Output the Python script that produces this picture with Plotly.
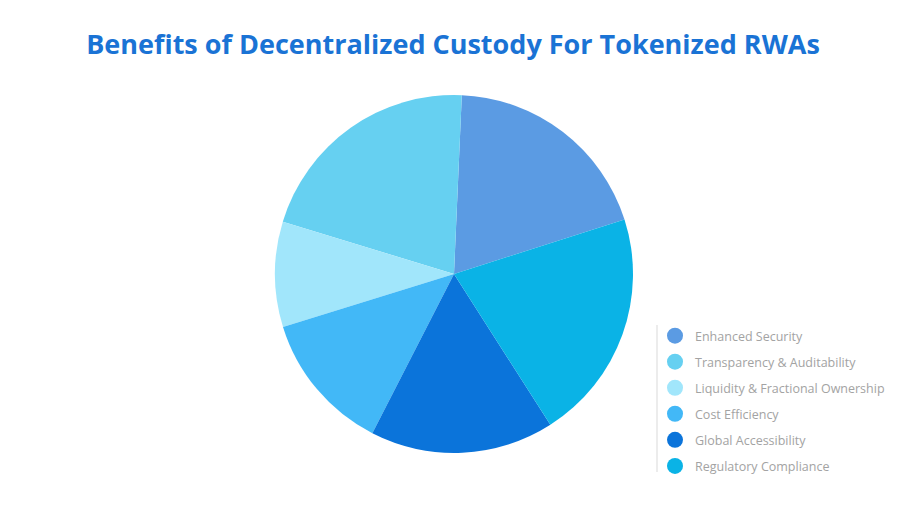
import plotly.graph_objects as go

categories = ["Enhanced Security", "Transparency & Auditability", "Liquidity & Fractional Ownership",
              "Cost Efficiency", "Global Accessibility", "Regulatory Compliance"]
values = [19.4, 21.0, 9.5, 12.7, 16.6, 20.9]
colors = ["#5b9be3", "#66d0f1", "#a1e6fb", "#42b8f7", "#0b74da", "#0ab3e6"]

W, H = 906, 506
OFF = 8  # page body margin offset


def px(x):
    return (x - OFF) / W


def py(y):
    return 1 - (y - OFF) / H


fig = go.Figure()
fig.add_trace(go.Pie(
    labels=categories, values=values, sort=False, direction="counterclockwise",
    rotation=2.5, marker=dict(colors=colors, line=dict(width=0)),
    textinfo="none", hoverinfo="label+percent", showlegend=False,
    domain=dict(x=[px(275), px(633)], y=[py(453), py(95)]),
))
for c, col in zip(categories, colors):
    fig.add_trace(go.Scatter(x=[None], y=[None], mode="markers", name=c,
                             marker=dict(color=col, size=16, symbol="circle"),
                             legendgroup=c, showlegend=True))

fig.update_layout(
    width=W, height=H, margin=dict(l=0, r=0, t=0, b=0),
    paper_bgcolor="white", plot_bgcolor="white",
    xaxis=dict(visible=False), yaxis=dict(visible=False),
    title=dict(text="<b>Benefits of Decentralized Custody For Tokenized RWAs</b>",
               x=px(453), xanchor="center", y=py(45), yanchor="middle",
               font=dict(family="Open Sans", size=27, color="#1a73d5")),
    legend=dict(x=px(655), xanchor="left", y=py(321), yanchor="top",
                font=dict(family="Open Sans", size=12.5, color="#a3a3a3"),
                bgcolor="rgba(0,0,0,0)", tracegroupgap=6.8, itemclick=False),
    shapes=[dict(type="line", xref="paper", yref="paper",
                 x0=px(657), x1=px(657), y0=py(325), y1=py(472),
                 line=dict(color="#e6e6e6", width=1.5))],
)
fig.write_html("out.html")
